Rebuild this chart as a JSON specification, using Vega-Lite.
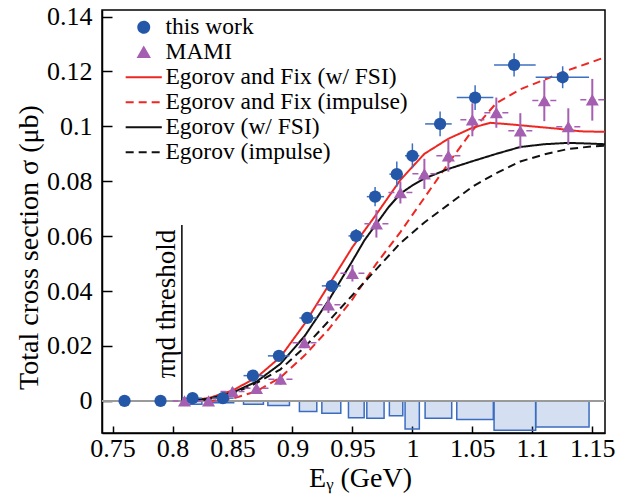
{
  "$schema": "https://vega.github.io/schema/vega-lite/v6.json",
  "width": 503,
  "height": 423,
  "autosize": {"type": "none"},
  "padding": {"left": 102, "top": 10, "right": 25, "bottom": 61},
  "config": {
    "font": "Liberation Serif",
    "view": {"stroke": "#000", "strokeWidth": 1.5},
    "axis": {
      "grid": false, "domainColor": "#000", "domainWidth": 1.5,
      "tickColor": "#000", "tickWidth": 1.5,
      "labelFont": "Liberation Serif", "labelFontSize": 26, "labelColor": "#000",
      "titleFont": "Liberation Serif", "titleFontSize": 28, "titleFontWeight": "normal", "titleColor": "#000",
      "labelOverlap": false, "labelFlush": false
    },
    "legend": {
      "labelFont": "Liberation Serif", "labelFontSize": 23.5, "labelColor": "#000", "labelLimit": 400,
      "symbolSize": 120, "symbolStrokeWidth": 2, "symbolOpacity": 1, "rowPadding": 0, "labelOffset": 10, "padding": 0
    }
  },
  "datasets": {
    "blue": [
      {"series": "this work", "x": 0.76, "y": 0, "xlo": 0.76, "xhi": 0.76, "ylo": 0, "yhi": 0},
      {"series": "this work", "x": 0.79, "y": 0, "xlo": 0.79, "xhi": 0.79, "ylo": 0, "yhi": 0},
      {"series": "this work", "x": 0.8167, "y": 0.001, "xlo": 0.8078, "xhi": 0.8245, "ylo": 0.0002, "yhi": 0.0018},
      {"series": "this work", "x": 0.842, "y": 0.001, "xlo": 0.833, "xhi": 0.851, "ylo": 0.0002, "yhi": 0.0018},
      {"series": "this work", "x": 0.867, "y": 0.0092, "xlo": 0.8592, "xhi": 0.8758, "ylo": 0.0082, "yhi": 0.0102},
      {"series": "this work", "x": 0.8887, "y": 0.0164, "xlo": 0.8795, "xhi": 0.8975, "ylo": 0.0152, "yhi": 0.0176},
      {"series": "this work", "x": 0.9123, "y": 0.0302, "xlo": 0.9058, "xhi": 0.9203, "ylo": 0.0287, "yhi": 0.0317},
      {"series": "this work", "x": 0.9328, "y": 0.0419, "xlo": 0.9245, "xhi": 0.9403, "ylo": 0.0399, "yhi": 0.0439},
      {"series": "this work", "x": 0.9531, "y": 0.0601, "xlo": 0.9467, "xhi": 0.9598, "ylo": 0.0576, "yhi": 0.0626},
      {"series": "this work", "x": 0.9689, "y": 0.0744, "xlo": 0.962, "xhi": 0.9764, "ylo": 0.0709, "yhi": 0.0779},
      {"series": "this work", "x": 0.987, "y": 0.0826, "xlo": 0.9808, "xhi": 0.992, "ylo": 0.078, "yhi": 0.0872},
      {"series": "this work", "x": 1.0, "y": 0.0893, "xlo": 0.9939, "xhi": 1.0058, "ylo": 0.0848, "yhi": 0.0938},
      {"series": "this work", "x": 1.0231, "y": 0.1009, "xlo": 1.0106, "xhi": 1.0328, "ylo": 0.0964, "yhi": 0.1054},
      {"series": "this work", "x": 1.0523, "y": 0.1105, "xlo": 1.037, "xhi": 1.0675, "ylo": 0.106, "yhi": 0.115},
      {"series": "this work", "x": 1.0848, "y": 0.1224, "xlo": 1.0681, "xhi": 1.1028, "ylo": 0.1182, "yhi": 0.1266},
      {"series": "this work", "x": 1.1253, "y": 0.1179, "xlo": 1.1028, "xhi": 1.1473, "ylo": 0.1139, "yhi": 0.1219}
    ],
    "sys": [
      {"xlo": 0.8078, "xhi": 0.8245, "y": -0.0012},
      {"xlo": 0.833, "xhi": 0.851, "y": -0.0007},
      {"xlo": 0.8592, "xhi": 0.8758, "y": -0.0012},
      {"xlo": 0.8795, "xhi": 0.8975, "y": -0.0017},
      {"xlo": 0.9058, "xhi": 0.9203, "y": -0.0039},
      {"xlo": 0.9245, "xhi": 0.9403, "y": -0.0045},
      {"xlo": 0.9467, "xhi": 0.9598, "y": -0.0061},
      {"xlo": 0.962, "xhi": 0.9764, "y": -0.0063},
      {"xlo": 0.9808, "xhi": 0.992, "y": -0.0054},
      {"xlo": 0.9939, "xhi": 1.0058, "y": -0.0102},
      {"xlo": 1.0106, "xhi": 1.0328, "y": -0.0063},
      {"xlo": 1.037, "xhi": 1.0675, "y": -0.0068},
      {"xlo": 1.0681, "xhi": 1.1028, "y": -0.0107},
      {"xlo": 1.1028, "xhi": 1.1473, "y": -0.0095}
    ],
    "mami": [
      {"series": "MAMI", "x": 0.81, "y": 0, "xlo": 0.8, "xhi": 0.82, "ylo": -0.001, "yhi": 0.001},
      {"series": "MAMI", "x": 0.83, "y": 0, "xlo": 0.82, "xhi": 0.84, "ylo": -0.001, "yhi": 0.001},
      {"series": "MAMI", "x": 0.85, "y": 0.0034, "xlo": 0.84, "xhi": 0.86, "ylo": 0.0019, "yhi": 0.0049},
      {"series": "MAMI", "x": 0.87, "y": 0.0046, "xlo": 0.86, "xhi": 0.88, "ylo": 0.0031, "yhi": 0.0061},
      {"series": "MAMI", "x": 0.89, "y": 0.0079, "xlo": 0.88, "xhi": 0.9, "ylo": 0.0059, "yhi": 0.0099},
      {"series": "MAMI", "x": 0.91, "y": 0.0212, "xlo": 0.9, "xhi": 0.92, "ylo": 0.0192, "yhi": 0.0232},
      {"series": "MAMI", "x": 0.93, "y": 0.035, "xlo": 0.92, "xhi": 0.94, "ylo": 0.032, "yhi": 0.038},
      {"series": "MAMI", "x": 0.95, "y": 0.0465, "xlo": 0.94, "xhi": 0.96, "ylo": 0.0435, "yhi": 0.0495},
      {"series": "MAMI", "x": 0.97, "y": 0.0645, "xlo": 0.96, "xhi": 0.98, "ylo": 0.0595, "yhi": 0.0695},
      {"series": "MAMI", "x": 0.99, "y": 0.0759, "xlo": 0.98, "xhi": 1.0, "ylo": 0.0719, "yhi": 0.0799},
      {"series": "MAMI", "x": 1.01, "y": 0.0827, "xlo": 1.0, "xhi": 1.02, "ylo": 0.0772, "yhi": 0.0882},
      {"series": "MAMI", "x": 1.03, "y": 0.0893, "xlo": 1.02, "xhi": 1.04, "ylo": 0.0835, "yhi": 0.0951},
      {"series": "MAMI", "x": 1.05, "y": 0.1024, "xlo": 1.04, "xhi": 1.06, "ylo": 0.0964, "yhi": 0.1084},
      {"series": "MAMI", "x": 1.07, "y": 0.105, "xlo": 1.06, "xhi": 1.08, "ylo": 0.0995, "yhi": 0.1105},
      {"series": "MAMI", "x": 1.09, "y": 0.0984, "xlo": 1.08, "xhi": 1.1, "ylo": 0.092, "yhi": 0.1048},
      {"series": "MAMI", "x": 1.11, "y": 0.1094, "xlo": 1.1, "xhi": 1.12, "ylo": 0.1019, "yhi": 0.1169},
      {"series": "MAMI", "x": 1.13, "y": 0.0999, "xlo": 1.12, "xhi": 1.14, "ylo": 0.0932, "yhi": 0.1066},
      {"series": "MAMI", "x": 1.15, "y": 0.1097, "xlo": 1.14, "xhi": 1.16, "ylo": 0.1021, "yhi": 0.1173}
    ],
    "curves": [
      {"series": "Egorov and Fix (w/ FSI)", "x": 0.812, "y": 0},
      {"series": "Egorov and Fix (w/ FSI)", "x": 0.83, "y": 0.001},
      {"series": "Egorov and Fix (w/ FSI)", "x": 0.85, "y": 0.0038},
      {"series": "Egorov and Fix (w/ FSI)", "x": 0.87, "y": 0.0085},
      {"series": "Egorov and Fix (w/ FSI)", "x": 0.89, "y": 0.016},
      {"series": "Egorov and Fix (w/ FSI)", "x": 0.91, "y": 0.028},
      {"series": "Egorov and Fix (w/ FSI)", "x": 0.93, "y": 0.042},
      {"series": "Egorov and Fix (w/ FSI)", "x": 0.95, "y": 0.056},
      {"series": "Egorov and Fix (w/ FSI)", "x": 0.97, "y": 0.068},
      {"series": "Egorov and Fix (w/ FSI)", "x": 0.99, "y": 0.0805},
      {"series": "Egorov and Fix (w/ FSI)", "x": 1.01, "y": 0.09},
      {"series": "Egorov and Fix (w/ FSI)", "x": 1.03, "y": 0.0955},
      {"series": "Egorov and Fix (w/ FSI)", "x": 1.05, "y": 0.0995},
      {"series": "Egorov and Fix (w/ FSI)", "x": 1.065, "y": 0.1013},
      {"series": "Egorov and Fix (w/ FSI)", "x": 1.08, "y": 0.1008},
      {"series": "Egorov and Fix (w/ FSI)", "x": 1.1, "y": 0.1},
      {"series": "Egorov and Fix (w/ FSI)", "x": 1.12, "y": 0.0992},
      {"series": "Egorov and Fix (w/ FSI)", "x": 1.14, "y": 0.0982},
      {"series": "Egorov and Fix (w/ FSI)", "x": 1.1606, "y": 0.098},
      {"series": "Egorov and Fix (impulse)", "x": 0.83, "y": 0},
      {"series": "Egorov and Fix (impulse)", "x": 0.85, "y": 0.0008},
      {"series": "Egorov and Fix (impulse)", "x": 0.87, "y": 0.0035},
      {"series": "Egorov and Fix (impulse)", "x": 0.89, "y": 0.0085},
      {"series": "Egorov and Fix (impulse)", "x": 0.91, "y": 0.0165},
      {"series": "Egorov and Fix (impulse)", "x": 0.93, "y": 0.026},
      {"series": "Egorov and Fix (impulse)", "x": 0.95, "y": 0.037},
      {"series": "Egorov and Fix (impulse)", "x": 0.97, "y": 0.05},
      {"series": "Egorov and Fix (impulse)", "x": 0.99, "y": 0.0615},
      {"series": "Egorov and Fix (impulse)", "x": 1.01, "y": 0.074},
      {"series": "Egorov and Fix (impulse)", "x": 1.03, "y": 0.0865},
      {"series": "Egorov and Fix (impulse)", "x": 1.05, "y": 0.0985},
      {"series": "Egorov and Fix (impulse)", "x": 1.07, "y": 0.1085},
      {"series": "Egorov and Fix (impulse)", "x": 1.09, "y": 0.1135},
      {"series": "Egorov and Fix (impulse)", "x": 1.11, "y": 0.117},
      {"series": "Egorov and Fix (impulse)", "x": 1.13, "y": 0.1205},
      {"series": "Egorov and Fix (impulse)", "x": 1.15, "y": 0.1235},
      {"series": "Egorov and Fix (impulse)", "x": 1.1606, "y": 0.1252},
      {"series": "Egorov (w/ FSI)", "x": 0.812, "y": 0},
      {"series": "Egorov (w/ FSI)", "x": 0.83, "y": 0.0008},
      {"series": "Egorov (w/ FSI)", "x": 0.85, "y": 0.003},
      {"series": "Egorov (w/ FSI)", "x": 0.87, "y": 0.007},
      {"series": "Egorov (w/ FSI)", "x": 0.89, "y": 0.0135},
      {"series": "Egorov (w/ FSI)", "x": 0.91, "y": 0.0235},
      {"series": "Egorov (w/ FSI)", "x": 0.93, "y": 0.0365},
      {"series": "Egorov (w/ FSI)", "x": 0.95, "y": 0.051},
      {"series": "Egorov (w/ FSI)", "x": 0.96, "y": 0.0585},
      {"series": "Egorov (w/ FSI)", "x": 0.97, "y": 0.0645},
      {"series": "Egorov (w/ FSI)", "x": 0.98, "y": 0.0705},
      {"series": "Egorov (w/ FSI)", "x": 0.99, "y": 0.0755},
      {"series": "Egorov (w/ FSI)", "x": 1.0, "y": 0.0785},
      {"series": "Egorov (w/ FSI)", "x": 1.01, "y": 0.081},
      {"series": "Egorov (w/ FSI)", "x": 1.03, "y": 0.0845},
      {"series": "Egorov (w/ FSI)", "x": 1.05, "y": 0.0873},
      {"series": "Egorov (w/ FSI)", "x": 1.07, "y": 0.09},
      {"series": "Egorov (w/ FSI)", "x": 1.09, "y": 0.0925},
      {"series": "Egorov (w/ FSI)", "x": 1.11, "y": 0.0935},
      {"series": "Egorov (w/ FSI)", "x": 1.13, "y": 0.094},
      {"series": "Egorov (w/ FSI)", "x": 1.15, "y": 0.0937},
      {"series": "Egorov (w/ FSI)", "x": 1.1606, "y": 0.0935},
      {"series": "Egorov (impulse)", "x": 0.815, "y": 0},
      {"series": "Egorov (impulse)", "x": 0.83, "y": 0.0005},
      {"series": "Egorov (impulse)", "x": 0.85, "y": 0.0025},
      {"series": "Egorov (impulse)", "x": 0.87, "y": 0.0065},
      {"series": "Egorov (impulse)", "x": 0.89, "y": 0.0115},
      {"series": "Egorov (impulse)", "x": 0.91, "y": 0.0195},
      {"series": "Egorov (impulse)", "x": 0.93, "y": 0.029},
      {"series": "Egorov (impulse)", "x": 0.95, "y": 0.0385},
      {"series": "Egorov (impulse)", "x": 0.97, "y": 0.048},
      {"series": "Egorov (impulse)", "x": 0.99, "y": 0.0575},
      {"series": "Egorov (impulse)", "x": 1.01, "y": 0.065},
      {"series": "Egorov (impulse)", "x": 1.03, "y": 0.0715},
      {"series": "Egorov (impulse)", "x": 1.05, "y": 0.078},
      {"series": "Egorov (impulse)", "x": 1.07, "y": 0.083},
      {"series": "Egorov (impulse)", "x": 1.09, "y": 0.0872},
      {"series": "Egorov (impulse)", "x": 1.11, "y": 0.0898},
      {"series": "Egorov (impulse)", "x": 1.13, "y": 0.0918},
      {"series": "Egorov (impulse)", "x": 1.15, "y": 0.0927},
      {"series": "Egorov (impulse)", "x": 1.1606, "y": 0.093}
    ]
  },
  "layer": [
    {
      "data": {"name": "sys"},
      "mark": {"type": "rect", "fill": "#3b6cc0", "fillOpacity": 0.22, "stroke": "#3b6cc0", "strokeWidth": 1.5},
      "encoding": {
        "x": {"field": "xlo", "type": "quantitative", "scale": {"domain": [0.7412, 1.1606], "nice": false, "zero": false}},
        "x2": {"field": "xhi"},
        "y": {"field": "y", "type": "quantitative", "scale": {"domain": [-0.0117, 0.1424], "nice": false, "zero": false}}
      }
    },
    {
      "data": {"values": [{"y": 0}]},
      "mark": {"type": "rule", "color": "#9a9a9a", "strokeWidth": 2},
      "encoding": {
        "y": {"field": "y", "type": "quantitative", "scale": {"domain": [-0.0117, 0.1424], "nice": false, "zero": false}}
      }
    },
    {
      "data": {"values": [{"x": 0.8078, "y": 0, "y2": 0.0641}]},
      "mark": {"type": "rule", "color": "#000", "strokeWidth": 1.5},
      "encoding": {
        "x": {"field": "x", "type": "quantitative", "scale": {"domain": [0.7412, 1.1606], "nice": false, "zero": false}},
        "y": {"field": "y", "type": "quantitative", "scale": {"domain": [-0.0117, 0.1424], "nice": false, "zero": false}},
        "y2": {"field": "y2"}
      }
    },
    {
      "data": {"values": [{"x": 0.8022, "y": 0.0353, "label": "πηd threshold"}]},
      "mark": {"type": "text", "angle": 270, "align": "center", "baseline": "alphabetic", "font": "Liberation Serif", "fontSize": 27, "color": "#000"},
      "encoding": {
        "x": {"field": "x", "type": "quantitative", "scale": {"domain": [0.7412, 1.1606], "nice": false, "zero": false}},
        "y": {"field": "y", "type": "quantitative", "scale": {"domain": [-0.0117, 0.1424], "nice": false, "zero": false}},
        "text": {"field": "label", "type": "nominal"}
      }
    },
    {
      "data": {"name": "curves"},
      "mark": {"type": "line", "strokeWidth": 2, "clip": true},
      "encoding": {
        "x": {
          "field": "x", "type": "quantitative",
          "scale": {"domain": [0.7412, 1.1606], "nice": false, "zero": false},
          "axis": {
            "values": [0.75, 0.775, 0.8, 0.825, 0.85, 0.875, 0.9, 0.925, 0.95, 0.975, 1, 1.025, 1.05, 1.075, 1.1, 1.125, 1.15],
            "format": "~g",
            "labelExpr": "abs(datum.value*20 - round(datum.value*20)) < 0.001 ? datum.label : ''",
            "tickSize": -7,
            "labelPadding": 9,
            "title": "Eᵧ (GeV)",
            "titleX": 258, "titleY": 53, "titleAlign": "center", "titleBaseline": "alphabetic", "titleAngle": 0
          }
        },
        "y": {
          "field": "y", "type": "quantitative",
          "scale": {"domain": [-0.0117, 0.1424], "nice": false, "zero": false},
          "axis": {
            "values": [0, 0.02, 0.04, 0.06, 0.08, 0.1, 0.12, 0.14],
            "format": "~g",
            "tickSize": -10,
            "labelPadding": 20,
            "title": "Total cross section σ (μb)",
            "titleX": -65, "titleY": 237, "titleAngle": 270, "titleAlign": "center", "titleBaseline": "alphabetic"
          }
        },
        "color": {
          "field": "series", "type": "nominal",
          "scale": {
            "domain": ["this work", "MAMI", "Egorov and Fix (w/ FSI)", "Egorov and Fix (impulse)", "Egorov (w/ FSI)", "Egorov (impulse)"],
            "range": ["#2457a7", "#a45fb1", "#ee2722", "#ee2722", "#111111", "#111111"]
          },
          "legend": {"title": null, "orient": "none", "legendX": 30, "legendY": 5.5}
        },
        "strokeDash": {
          "field": "series", "type": "nominal",
          "scale": {
            "domain": ["this work", "MAMI", "Egorov and Fix (w/ FSI)", "Egorov and Fix (impulse)", "Egorov (w/ FSI)", "Egorov (impulse)"],
            "range": [[1, 0], [1, 0], [1, 0], [8, 5], [1, 0], [8, 5]]
          },
          "legend": {"title": null, "orient": "none", "legendX": 30, "legendY": 5.5}
        }
      }
    },
    {
      "data": {"name": "blue"},
      "mark": {"type": "rule", "color": "#3d6fc0", "strokeWidth": 1.5},
      "encoding": {
        "x": {"field": "x", "type": "quantitative", "scale": {"domain": [0.7412, 1.1606], "nice": false, "zero": false}},
        "y": {"field": "ylo", "type": "quantitative", "scale": {"domain": [-0.0117, 0.1424], "nice": false, "zero": false}},
        "y2": {"field": "yhi"}
      }
    },
    {
      "data": {"name": "blue"},
      "mark": {"type": "rule", "color": "#3d6fc0", "strokeWidth": 1.5},
      "encoding": {
        "x": {"field": "xlo", "type": "quantitative", "scale": {"domain": [0.7412, 1.1606], "nice": false, "zero": false}},
        "x2": {"field": "xhi"},
        "y": {"field": "y", "type": "quantitative", "scale": {"domain": [-0.0117, 0.1424], "nice": false, "zero": false}}
      }
    },
    {
      "data": {"name": "mami"},
      "mark": {"type": "rule", "color": "#a65fb3", "strokeWidth": 2},
      "encoding": {
        "x": {"field": "x", "type": "quantitative", "scale": {"domain": [0.7412, 1.1606], "nice": false, "zero": false}},
        "y": {"field": "ylo", "type": "quantitative", "scale": {"domain": [-0.0117, 0.1424], "nice": false, "zero": false}},
        "y2": {"field": "yhi"}
      }
    },
    {
      "data": {"name": "mami"},
      "mark": {"type": "rule", "color": "#a65fb3", "strokeWidth": 1.5, "strokeDash": [6, 3]},
      "encoding": {
        "x": {"field": "xlo", "type": "quantitative", "scale": {"domain": [0.7412, 1.1606], "nice": false, "zero": false}},
        "x2": {"field": "xhi"},
        "y": {"field": "y", "type": "quantitative", "scale": {"domain": [-0.0117, 0.1424], "nice": false, "zero": false}}
      }
    },
    {
      "data": {"name": "mami"},
      "mark": {"type": "point", "filled": true, "opacity": 1, "size": 170},
      "encoding": {
        "x": {"field": "x", "type": "quantitative", "scale": {"domain": [0.7412, 1.1606], "nice": false, "zero": false}},
        "y": {"field": "y", "type": "quantitative", "scale": {"domain": [-0.0117, 0.1424], "nice": false, "zero": false}},
        "color": {
          "field": "series", "type": "nominal",
          "scale": {
            "domain": ["this work", "MAMI", "Egorov and Fix (w/ FSI)", "Egorov and Fix (impulse)", "Egorov (w/ FSI)", "Egorov (impulse)"],
            "range": ["#2457a7", "#a45fb1", "#ee2722", "#ee2722", "#111111", "#111111"]
          }
        },
        "shape": {
          "field": "series", "type": "nominal",
          "scale": {
            "domain": ["this work", "MAMI", "Egorov and Fix (w/ FSI)", "Egorov and Fix (impulse)", "Egorov (w/ FSI)", "Egorov (impulse)"],
            "range": ["circle", "triangle-up", "M-3.3,0H3.3", "M-3.3,0H3.3", "M-3.3,0H3.3", "M-3.3,0H3.3"]
          },
          "legend": {"title": null, "orient": "none", "legendX": 30, "legendY": 5.5}
        }
      }
    },
    {
      "data": {"name": "blue"},
      "mark": {"type": "point", "filled": true, "opacity": 1, "size": 150},
      "encoding": {
        "x": {"field": "x", "type": "quantitative", "scale": {"domain": [0.7412, 1.1606], "nice": false, "zero": false}},
        "y": {"field": "y", "type": "quantitative", "scale": {"domain": [-0.0117, 0.1424], "nice": false, "zero": false}},
        "color": {
          "field": "series", "type": "nominal",
          "scale": {
            "domain": ["this work", "MAMI", "Egorov and Fix (w/ FSI)", "Egorov and Fix (impulse)", "Egorov (w/ FSI)", "Egorov (impulse)"],
            "range": ["#2457a7", "#a45fb1", "#ee2722", "#ee2722", "#111111", "#111111"]
          }
        },
        "shape": {
          "field": "series", "type": "nominal",
          "scale": {
            "domain": ["this work", "MAMI", "Egorov and Fix (w/ FSI)", "Egorov and Fix (impulse)", "Egorov (w/ FSI)", "Egorov (impulse)"],
            "range": ["circle", "triangle-up", "M-3.3,0H3.3", "M-3.3,0H3.3", "M-3.3,0H3.3", "M-3.3,0H3.3"]
          },
          "legend": {"title": null, "orient": "none", "legendX": 30, "legendY": 5.5}
        }
      }
    }
  ]
}
